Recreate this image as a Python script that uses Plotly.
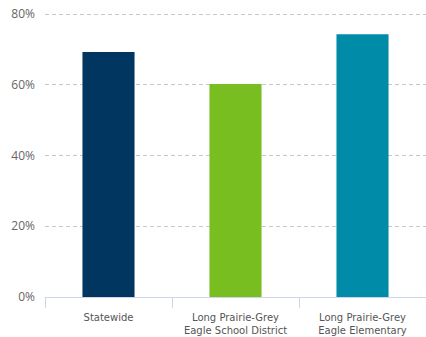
import plotly.graph_objects as go

categories = ["Statewide", "Long Prairie-Grey<br>Eagle School District", "Long Prairie-Grey<br>Eagle Elementary"]
values = [69.3, 60.2, 74.3]
colors = ["#003660", "#78be20", "#008ba9"]
y_ticks = [0, 20, 40, 60, 80]
y_tick_labels = ["0%", "20%", "40%", "60%", "80%"]

fig = go.Figure(go.Bar(
    x=categories, y=values, marker_color=colors, width=0.41,
    marker_line_width=0, hoverinfo="skip",
))
fig.update_layout(
    width=426, height=337,
    margin=dict(l=45, r=0, t=7, b=40, autoexpand=False),
    plot_bgcolor="white", paper_bgcolor="white",
    showlegend=False,
    font=dict(family="DejaVu Sans", color="#555555"),
)
fig.update_yaxes(
    range=[0, 82], tickvals=y_ticks, ticktext=y_tick_labels,
    showgrid=True, gridcolor="#c8c8c8", griddash="4px,3px", gridwidth=1,
    zeroline=False, showline=False, automargin=False,
    tickfont=dict(family="Open Sans", size=12, color="#666666"),
    ticklabelstandoff=9,
)
fig.update_xaxes(
    showline=True, linecolor="#ccd6eb", linewidth=1, automargin=False,
    ticks="outside", tickson="boundaries", ticklen=10, tickcolor="#ccd6eb",
    tickfont=dict(family="DejaVu Sans", size=10, color="#555555"),
    ticklabelstandoff=11,
)
fig.write_html("out.html", config={"displayModeBar": False},
               post_script="document.body.style.margin='0';")
